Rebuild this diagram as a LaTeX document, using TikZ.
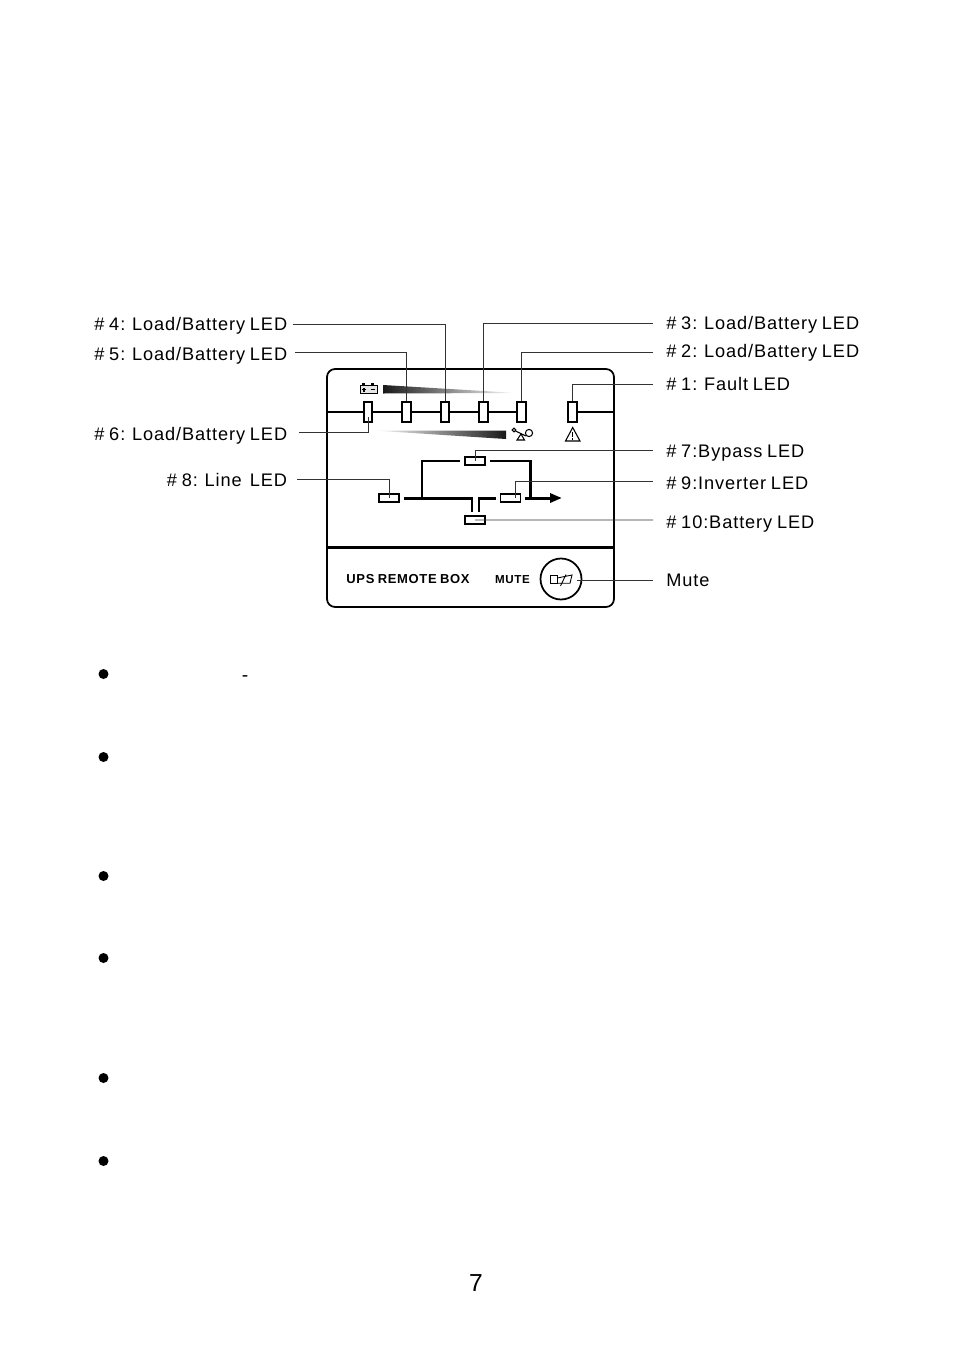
\documentclass[tikz,border=0pt]{standalone}
\usepackage{fontspec}
\setmainfont{Liberation Sans}
\newfontfamily\lblfont[LetterSpace=5,WordSpace=0.8]{Liberation Sans}
\usetikzlibrary{arrows.meta}

\tikzset{
lbl/.style={inner ysep=0pt,text height=7.4pt,text depth=0pt,font=\lblfont\fontsize{10.35}{12}\selectfont},
lblleft/.style={lbl,anchor=east,inner xsep=0.1cm},
lblright/.style={lbl,anchor=west,inner xsep=0.26cm},
callout/.style={draw=black!80,line width=0.55pt},
ledv/.style={draw,line width=1pt,fill=white,minimum width=0.17cm,minimum height=0.41cm,inner sep=0pt},
ledh/.style={draw,line width=1pt,fill=white,minimum width=0.4cm,minimum height=0.16cm,inner sep=0pt},
bus/.style={line width=1.7pt,shorten <=0.08cm},
bullet/.style={circle,fill=black,minimum size=0.2cm,inner sep=0pt}
}

\begin{document}
\begin{tikzpicture}[x=0.02cm,y=-0.02cm]
\useasboundingbox (0,0) rectangle (954,1352);

% The panel
\node[draw,line width=1pt,rounded corners=0.16cm,minimum width=5.74cm,minimum height=4.76cm,inner sep=0pt] (panel) at (470.5,488) {};
\draw[line width=1.5pt] (panel.west |- 0,547.5) -- (panel.east |- 0,547.5);

% The LEDs
\node[ledv] (led6) at (368,412) {};
\node[ledv] (led5) at (406.5,412) {};
\node[ledv] (led4) at (445,412) {};
\node[ledv] (led3) at (483.5,412) {};
\node[ledv] (led2) at (521.5,412) {};
\node[ledv] (led1) at (572.5,412) {};
\node[ledh] (led7) at (475,461) {};
\node[ledh] (led8) at (389,498) {};
\node[ledh] (led9) at (510.5,498) {};
\node[ledh] (led10) at (475,520) {};

% The meter line
\draw[line width=0.9pt] (panel.west |- led6) -- (led6) -- (led5) -- (led4) -- (led3) -- (led2);
\draw[line width=0.9pt] (led1) -- (panel.east |- led1);

% The power flow
\coordinate (jleft) at (422,498);
\coordinate (jright) at (530,498);
\coordinate (tleft) at (472,512);
\coordinate (tright) at (479,512);
\coordinate (output) at (562,498);
\draw[bus] (led7) -| (jleft);
\draw[bus] (led7) -| (jright);
\draw[bus] (led8) -| (tleft);
\draw[bus] (led9) -| (tright);
\draw[bus,-{Triangle[length=0.24cm,width=0.18cm]}] (led9) -- (output);

% The icons
\draw[line width=0.5pt,fill=black!10] (360,385) rectangle (377,393.5);
\draw[line width=1.2pt] (362,384.5) -- (365,384.5) (371,384.5) -- (374,384.5);
\draw[line width=0.6pt] (362,389.5) -- (366,389.5) (364,387.5) -- (364,391.5) (371,389.5) -- (375,389.5);
\shade[left color=black!90,right color=white] (383,385) -- (383,393.5) -- (517,393) -- cycle;
\shade[left color=white,right color=black!90] (373,430.5) -- (506,430.5) -- (506,439) -- cycle;
\draw[line width=0.6pt] (514,430) circle (1.8) (529,433) circle (3.6);
\draw[line width=0.6pt] (515.5,431) -- (526,436);
\draw[line width=0.6pt] (517,440) -- (524.5,440) -- (521,434) -- cycle;
\draw[line width=0.6pt] (565.5,441) -- (580,441) -- (572.7,427.5) -- cycle;
\draw[line width=0.8pt] (572.7,432) -- (572.7,437) (572.7,438.3) -- (572.7,439.6);

% The mute button
\node[draw,circle,line width=1pt,minimum size=0.82cm,inner sep=0pt] (mutebtn) at (561,579) {};
\draw[line width=0.5pt] (550.7,575.7) rectangle (557.3,583.3);
\draw[line width=0.5pt] (557.3,578) -- (572,575) -- (570,583.3) -- (557.3,583.3) (566,574.5) -- (560.5,586);
\coordinate (speaker) at (577,580);
\node[font=\lblfont\bfseries\fontsize{7.4}{8}\selectfont] (boxname) at (408,579) {UPS REMOTE BOX};
\node[font=\lblfont\bfseries\fontsize{6.6}{8}\selectfont] (mutename) at (512.5,579.5) {MUTE};

% The labels
\node[lblleft] (lab4) at (292.5,324.3) {\# 4: Load/Battery LED};
\node[lblleft] (lab5) at (292.5,354) {\# 5: Load/Battery LED};
\node[lblleft] (lab6) at (292.5,434.3) {\# 6: Load/Battery LED};
\node[lblleft] (lab8) at (292.5,480) {\# 8: Line\hspace{0.45em}LED};
\node[lblright] (lab3) at (653,323.3) {\# 3: Load/Battery LED};
\node[lblright] (lab2) at (653,350.7) {\# 2: Load/Battery LED};
\node[lblright] (lab1) at (653,384) {\# 1: Fault LED};
\node[lblright] (lab7) at (653,451) {\# 7:Bypass LED};
\node[lblright] (lab9) at (653,483.3) {\# 9:Inverter LED};
\node[lblright] (lab10) at (653,522) {\# 10:Battery LED};
\node[lblright] (labmute) at (653,580) {Mute};

% The callouts
\draw[callout] (lab4.east) -| (led4.north);
\draw[callout,shorten <=0.05cm] ([yshift=0.034cm]lab5.east) -| (led5.north);
\draw[callout,shorten <=0.13cm,shorten >=0.1cm] ([yshift=0.032cm]lab6.east) -| (led6.center);
\draw[callout,shorten <=0.09cm] ([yshift=0.02cm]lab8.east) -| (led8.center);
\draw[callout] (lab3.west) -| (led3.north);
\draw[callout] ([yshift=-0.032cm]lab2.west) -| (led2.north);
\draw[callout] ([yshift=-0.015cm]lab1.west) -| (led1.north);
\draw[callout] ([yshift=0.02cm]lab7.west) -| (led7.center);
\draw[callout] ([yshift=0.046cm]lab9.west) -| ([xshift=0.09cm]led9.center);
\draw[callout] ([yshift=0.04cm]lab10.west) -- (led10.center);
\draw[callout] (labmute.west) -- (speaker);

% The bullets
\node[bullet] (b1) at (103.5,674) {};
\node[bullet] (b2) at (103.5,757) {};
\node[bullet] (b3) at (103.5,876) {};
\node[bullet] (b4) at (103.5,958) {};
\node[bullet] (b5) at (103.5,1078) {};
\node[bullet] (b6) at (103.5,1161) {};
\node[font=\fontsize{11}{13}\selectfont] (dash) at (245,679) {-};
\node[font=\fontsize{14}{16}\selectfont] (pagenum) at (476,1283) {7};
\end{tikzpicture}
\end{document}
